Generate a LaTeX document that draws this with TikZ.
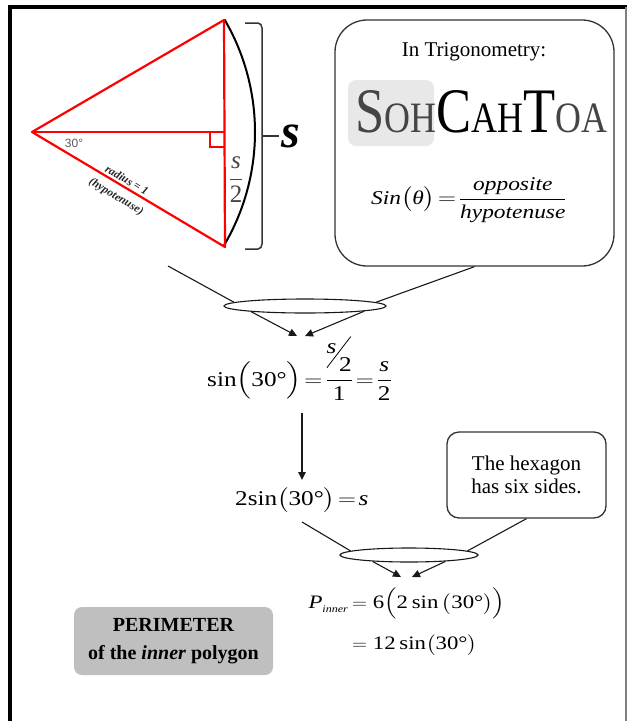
\documentclass[tikz,border=0pt]{standalone}
\usepackage{amsmath}
\usepackage{fontspec}
\setmainfont{Liberation Serif}
\setsansfont{Liberation Sans}
\usepackage{graphicx}
\usetikzlibrary{shapes.geometric,arrows.meta}
\newcommand{\hstretch}[1]{\scalebox{1.2}[1]{#1}}
\newcommand{\slashhalf}{\mbox{\rlap{\raisebox{4pt}{\rotatebox{57.5}{\rule{37pt}{0.7pt}}}}\raisebox{18pt}{\textit{s}}\kern2.3pt2}}
\definecolor{sohgray}{gray}{0.27}
\definecolor{linegray}{gray}{0.2}
\tikzset{
  redline/.style={draw=red, line width=2.2pt, line join=round},
  conn/.style={draw=black!90, line width=1.1pt},
  arr/.style={conn, -{Triangle[length=8pt,width=7.5pt]}},
  eqstyle/.style={inner sep=0pt, font=\fontsize{19}{22}\selectfont},
  bigeq/.style={inner sep=0pt, font=\fontsize{21}{24}\selectfont},
  roundbox/.style={draw=linegray, line width=1.3pt},
  merge/.style={draw=black!90, line width=1.1pt, ellipse, inner sep=0pt, fill=white},
  hyptext/.style={inner sep=0pt, rotate=-30.8, font=\bfseries\itshape\fontsize{11.5}{13}\selectfont, text=black!85},
}
\begin{document}
\begin{tikzpicture}[x=1pt,y=-1pt]
\useasboundingbox (0,0) rectangle (627,721);
% frame
\draw[black, line width=3.5pt] (8,7) -- (627,7);
\draw[black, line width=3.5pt] (10,5.3) -- (10,721);
\draw[gray, line width=1.5pt] (626,7) -- (626,721);

% triangle
\coordinate (O) at (32,132);
\coordinate (A) at (224,20);
\coordinate (B) at (225,247);
\coordinate (M) at (224,132);
\draw[black, line width=2pt] plot[domain=-30.3:30.8, samples=60] ({32+223*cos(\x)},{132+223*sin(\x)});
\draw[redline] (A) -- (O) -- (B) -- cycle;
\draw[redline] (O) -- (M);
\draw[draw=red, line width=1.5pt] (210,132) -- (210,147) -- (224,147);
\node[font=\sffamily\fontsize{12}{13}\selectfont, text=gray!70!black, inner sep=0pt] (ang) at (74,143) {30°};
\node[hyptext] (rad) at (127,180) {radius = 1};
\node[hyptext] (hyp) at (116,197) {(hypotenuse)};
\node[inner sep=0pt, text=sohgray, font=\fontsize{25}{28}\selectfont] (half) at (236,180) {$\dfrac{\mbox{\textit{s}}}{\mbox{2}}$};

% bracket and s
\draw[linegray, line width=1.5pt] (245,23) -- (258,23) to[out=0,in=90] (262,28) -- (262,244) to[out=-90,in=0] (258,249) -- (245,249);
\draw[linegray, line width=1.5pt] (262,136) -- (279,136);
\node[anchor=base, inner sep=0pt, font=\bfseries\itshape\fontsize{48}{50}\selectfont] (bigs) at (291,147) {s};

% trig box
\node[roundbox, rounded corners=32pt, minimum width=279pt, minimum height=246pt, inner sep=0pt] (trig) at (474.5,143) {};
\node[anchor=base, inner sep=0pt, font=\fontsize{21}{24}\selectfont] (intrig) at (474,56) {In Trigonometry:};
\node[fill=gray!18, rounded corners=8pt, minimum width=86pt, minimum height=66pt, inner sep=0pt] (hl) at (391,113) {};
\node[anchor=south west, inner sep=0pt] (soh) at (355,133) {\resizebox{252pt}{42pt}{\fontsize{60}{60}\selectfont\color{sohgray}S\fontsize{41}{41}\selectfont OH\color{black}\fontsize{60}{60}\selectfont C\fontsize{41}{41}\selectfont AH\fontsize{60}{60}\selectfont T\color{sohgray}\fontsize{41}{41}\selectfont OA}};
\node[eqstyle, font=\fontsize{19.5}{22}\selectfont] (sinf) at (469,200) {\hstretch{$\mbox{\textit{Sin}}\bigl(\mbox{\textit{θ}}\bigr)\!=\!\dfrac{\mbox{\textit{opposite}}}{\mbox{\textit{hypotenuse}}}$}};

% first merge
\coordinate (c1) at (168,266);
\node[merge, minimum width=162pt, minimum height=14pt] (e1) at (305,306) {};
\coordinate (t1) at (297,336);
\coordinate (t2) at (305,336);
\draw[conn] (c1) -- (e1.177);
\draw[conn] (trig.south) -- (e1.3);
\draw[arr] (e1.186) -- (t1);
\draw[arr] (e1.-5) -- (t2);

% equation 1
\node[bigeq, anchor=base west] (eq1) at (207,386) {\hstretch{$\mbox{sin}\Bigl(\mbox{30°}\Bigr)\!=\!\dfrac{\slashhalf}{\mbox{1}}\!=\!\dfrac{\mbox{\textit{s}}}{\mbox{2}}$}};

% vertical arrow
\coordinate (v1) at (302,413);
\coordinate (v2) at (302,480);
\draw[arr] (v1) -- (v2);

% equation 2
\node[bigeq, anchor=base west] (eq2) at (235,505) {\hstretch{$\mbox{2sin}\bigl(\mbox{30°}\bigr)\!=\!\mbox{\textit{s}}$}};

% hexagon box
\node[roundbox, rounded corners=12pt, minimum width=159pt, minimum height=86pt, align=center, inner sep=0pt, font=\fontsize{21}{23}\selectfont] (hex) at (526.5,475) {The hexagon\\has six sides.};

% second merge
\coordinate (c2) at (302,522);
\node[merge, minimum width=138pt, minimum height=14pt] (e2) at (409,555) {};
\coordinate (t3) at (401,577);
\coordinate (t4) at (412,577);
\draw[conn] (c2) -- (e2.176);
\draw[conn] (hex.south) -- (e2.4);
\draw[arr] (e2.190) -- (t3);
\draw[arr] (e2.-10) -- (t4);

% perimeter
\node[eqstyle, anchor=base east] (p1a) at (348,608) {\hstretch{\textit{P}\raisebox{-0.5ex}{\fontsize{10}{10}\selectfont\textit{inner}}}};
\node[eqstyle, anchor=base west] (p1b) at (352,608) {\hstretch{$=\mbox{6}\Bigl(\mbox{2\,sin}\,\bigl(\mbox{30°}\bigr)\Bigr)$}};
\node[eqstyle, anchor=base west] (p2) at (352,649) {\hstretch{$=\mbox{12\,sin}\bigl(\mbox{30°}\bigr)$}};

\node[fill=gray!50, rounded corners=8pt, minimum width=199pt, minimum height=68pt, align=center, inner sep=0pt, font=\bfseries\fontsize{20}{28}\selectfont] (perim) at (173.5,641) {PERIMETER\\of the \textit{inner} polygon};
\end{tikzpicture}
\end{document}
